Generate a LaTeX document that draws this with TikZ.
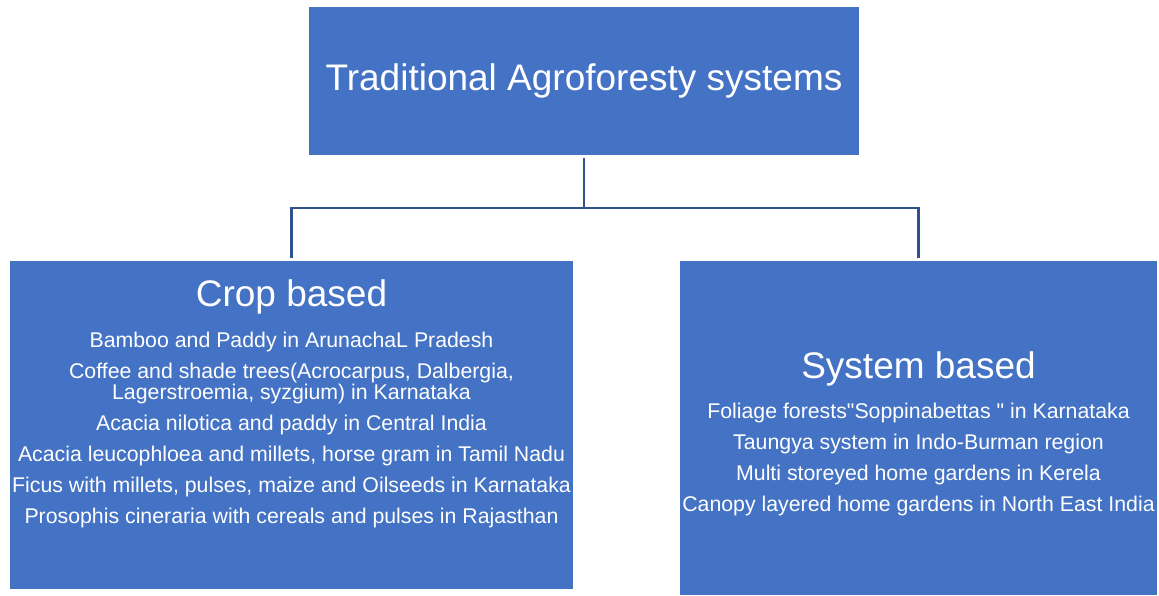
\documentclass[tikz,border=0pt]{standalone}
\usepackage{fontspec}
\setmainfont{Liberation Sans}

\tikzset{
  panel/.style={draw=none, fill={rgb,255:red,68;green,114;blue,196}, inner sep=0pt, text=white},
  head/.style={text=white, font=\fontsize{37}{40}\selectfont, inner sep=0pt},
  items/.style={text=white, font=\fontsize{21.3}{21}\selectfont, align=center, inner sep=0pt},
  link/.style={draw={rgb,255:red,47;green,82;blue,143}, line width=2.2pt}
}

\begin{document}
\begin{tikzpicture}[x=1pt,y=1pt,yscale=-1]
\useasboundingbox (0,0) rectangle (1159,595);
% boxes
\node[panel, head, minimum width=550pt, minimum height=148pt] (root) at (584,81) {Traditional Agroforesty systems};
\node[panel, minimum width=563pt, minimum height=328pt] (crop) at (291.5,425) {};
\node[panel, minimum width=477pt, minimum height=334pt] (sys) at (918.5,428) {};
% crop based
\node[head, anchor=base] (croptitle) at (291.5,306) {Crop based};
\node[items, anchor=north] (croplist) at (291.5,331.5) {Bamboo and Paddy in ArunachaL Pradesh\\[10pt]
  Coffee and shade trees(Acrocarpus, Dalbergia,\\
  Lagerstroemia, syzgium) in Karnataka\\[10pt]
  Acacia nilotica and paddy in Central India\\[10pt]
  Acacia leucophloea and millets, horse gram in Tamil Nadu\\[10pt]
  Ficus with millets, pulses, maize and Oilseeds in Karnataka\\[10pt]
  Prosophis cineraria with cereals and pulses in Rajasthan};
% system based
\node[head, anchor=base] (systitle) at (918.5,378) {System based};
\node[items, anchor=north] (syslist) at (918.5,402.5) {Foliage forests\textquotedbl Soppinabettas \textquotedbl{} in Karnataka\\[10pt]
  Taungya system in Indo-Burman region\\[10pt]
  Multi storeyed home gardens in Kerela\\[10pt]
  Canopy layered home gardens in North East India};
% connectors
\coordinate (fork) at (584,208);
\draw[link, shorten <=3pt] (root.south) -- (fork);
\draw[link, shorten >=3pt] (fork) -| (crop.north);
\draw[link, shorten >=3pt] (fork) -| (sys.north);
\end{tikzpicture}
\end{document}
